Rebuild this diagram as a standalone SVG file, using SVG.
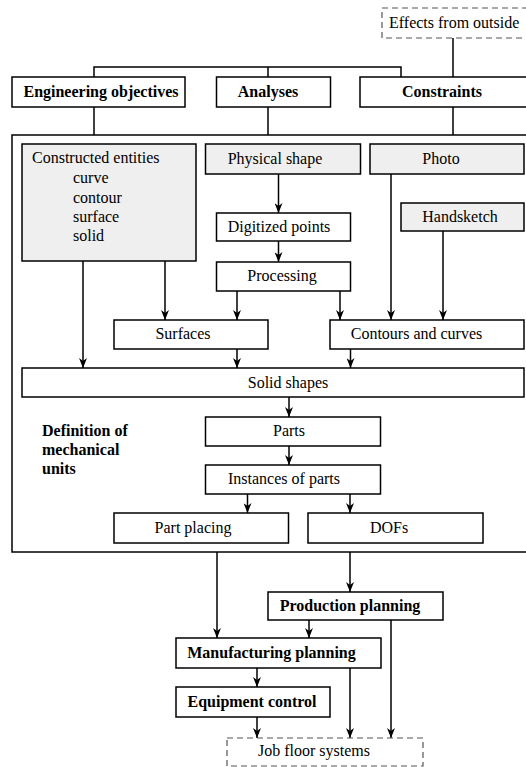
<svg xmlns="http://www.w3.org/2000/svg" width="526" height="767" viewBox="0 0 526 767">
  <style>
    .box { fill: #ffffff; stroke: #000; stroke-width: 1.5; }
    .grey { fill: #efefef; stroke: #000; stroke-width: 1.5; }
    .dash { fill: #ffffff; stroke: #555; stroke-width: 1.2; stroke-dasharray: 6 4; }
    .frame { fill: none; stroke: #000; stroke-width: 1.5; }
    .wire { fill: none; stroke: #000; stroke-width: 1.5; }
    .arr { fill: none; stroke: #000; stroke-width: 1.5; marker-end: url(#head); }
    .b { font-weight: bold; }
    .c { text-anchor: middle; }
  </style>
  <defs>
    <marker id="head" viewBox="0 0 10 8" refX="10" refY="4" markerWidth="10" markerHeight="8" markerUnits="userSpaceOnUse" orient="auto">
      <path d="M0,0 L10,4 L0,8 L3,4 z" fill="#000"/>
    </marker>
  </defs>

  <rect width="526" height="767" fill="#ffffff"/>

  <g font-family="'Liberation Serif', 'Times New Roman', serif" font-size="16" fill="#000">

  <!-- outer frame: definition of mechanical units -->
  <g id="mechanical-units">
    <rect class="frame" x="12" y="135" width="520" height="417"/>
    <text class="b" x="42" y="436">Definition of</text>
    <text class="b" x="42" y="455">mechanical</text>
    <text class="b" x="42" y="474">units</text>
  </g>

  <!-- connectors -->
  <g id="connectors">
    <path class="wire" d="M94,77 V67 H401 V77 M268,67 V77"/>
    <path class="wire" d="M453,38 V77"/>
    <path class="wire" d="M94,107 V135 M268,107 V135 M453,107 V135"/>
    <path class="arr" d="M278.5,174 V213"/>
    <path class="arr" d="M278.5,241 V262"/>
    <path class="arr" d="M83,261 V368"/>
    <path class="arr" d="M165,261 V320"/>
    <path class="arr" d="M237,291 V320"/>
    <path class="arr" d="M340,291 V320"/>
    <path class="arr" d="M391,174 V320"/>
    <path class="arr" d="M443,231 V320"/>
    <path class="arr" d="M237,349 V368"/>
    <path class="arr" d="M350.5,349 V368"/>
    <path class="arr" d="M289,397 V417"/>
    <path class="arr" d="M289,446 V465"/>
    <path class="arr" d="M247.5,494 V513"/>
    <path class="arr" d="M350,494 V513"/>
    <path class="arr" d="M217,552 V638"/>
    <path class="arr" d="M350,552 V592"/>
    <path class="arr" d="M309,620 V638"/>
    <path class="arr" d="M391,620 V738"/>
    <path class="arr" d="M350,668 V738"/>
    <path class="arr" d="M257,668 V687"/>
    <path class="arr" d="M257,717 V738"/>
  </g>

  <g id="effects-from-outside">
    <rect class="dash" x="382" y="8" width="160" height="30"/>
    <text x="389" y="28">Effects from outside</text>
  </g>

  <g id="engineering-objectives">
    <rect class="box" x="12" y="77" width="173" height="30"/>
    <text class="b c" x="101" y="97">Engineering objectives</text>
  </g>
  <g id="analyses">
    <rect class="box" x="216.5" y="77" width="114" height="30"/>
    <text class="b c" x="268" y="97">Analyses</text>
  </g>
  <g id="constraints">
    <rect class="box" x="360" y="77" width="180" height="30"/>
    <text class="b c" x="442" y="97">Constraints</text>
  </g>

  <g id="constructed-entities">
    <rect class="grey" x="22" y="144" width="174" height="117"/>
    <text x="32" y="163">Constructed entities</text>
    <text x="73" y="183">curve</text>
    <text x="73" y="203">contour</text>
    <text x="73" y="222">surface</text>
    <text x="73" y="241">solid</text>
  </g>
  <g id="physical-shape">
    <rect class="grey" x="205.5" y="144" width="155" height="30"/>
    <text class="c" x="275" y="164">Physical shape</text>
  </g>
  <g id="photo">
    <rect class="grey" x="370" y="144" width="154" height="30"/>
    <text class="c" x="441" y="164">Photo</text>
  </g>
  <g id="handsketch">
    <rect class="grey" x="401" y="203" width="123" height="28"/>
    <text class="c" x="460" y="222">Handsketch</text>
  </g>
  <g id="digitized-points">
    <rect class="box" x="216.5" y="213" width="134" height="28"/>
    <text class="c" x="279" y="232">Digitized points</text>
  </g>
  <g id="processing">
    <rect class="box" x="216.5" y="262" width="134" height="29"/>
    <text class="c" x="282" y="281">Processing</text>
  </g>
  <g id="surfaces">
    <rect class="box" x="114" y="320" width="154" height="29"/>
    <text class="c" x="183" y="339">Surfaces</text>
  </g>
  <g id="contours-and-curves">
    <rect class="box" x="330" y="320" width="194" height="29"/>
    <text class="c" x="416.5" y="339">Contours and curves</text>
  </g>
  <g id="solid-shapes">
    <rect class="box" x="22" y="368" width="502" height="29"/>
    <text class="c" x="288" y="388">Solid shapes</text>
  </g>
  <g id="parts">
    <rect class="box" x="205.5" y="417" width="175" height="29"/>
    <text class="c" x="289" y="436">Parts</text>
  </g>
  <g id="instances-of-parts">
    <rect class="box" x="205.5" y="465" width="175" height="29"/>
    <text class="c" x="284" y="484">Instances of parts</text>
  </g>
  <g id="part-placing">
    <rect class="box" x="114" y="513" width="174.5" height="30"/>
    <text class="c" x="193" y="533">Part placing</text>
  </g>
  <g id="dofs">
    <rect class="box" x="308" y="513" width="175" height="30"/>
    <text class="c" x="389" y="533">DOFs</text>
  </g>

  <g id="production-planning">
    <rect class="box" x="268" y="592" width="175" height="28"/>
    <text class="b c" x="350" y="611">Production planning</text>
  </g>
  <g id="manufacturing-planning">
    <rect class="box" x="176" y="638" width="205" height="30"/>
    <text class="b c" x="271.5" y="658">Manufacturing planning</text>
  </g>
  <g id="equipment-control">
    <rect class="box" x="176" y="687" width="154" height="30"/>
    <text class="b c" x="252" y="707">Equipment control</text>
  </g>
  <g id="job-floor-systems">
    <rect class="dash" x="227" y="738" width="196" height="28"/>
    <text class="c" x="314" y="756">Job floor systems</text>
  </g>

  </g>
</svg>
